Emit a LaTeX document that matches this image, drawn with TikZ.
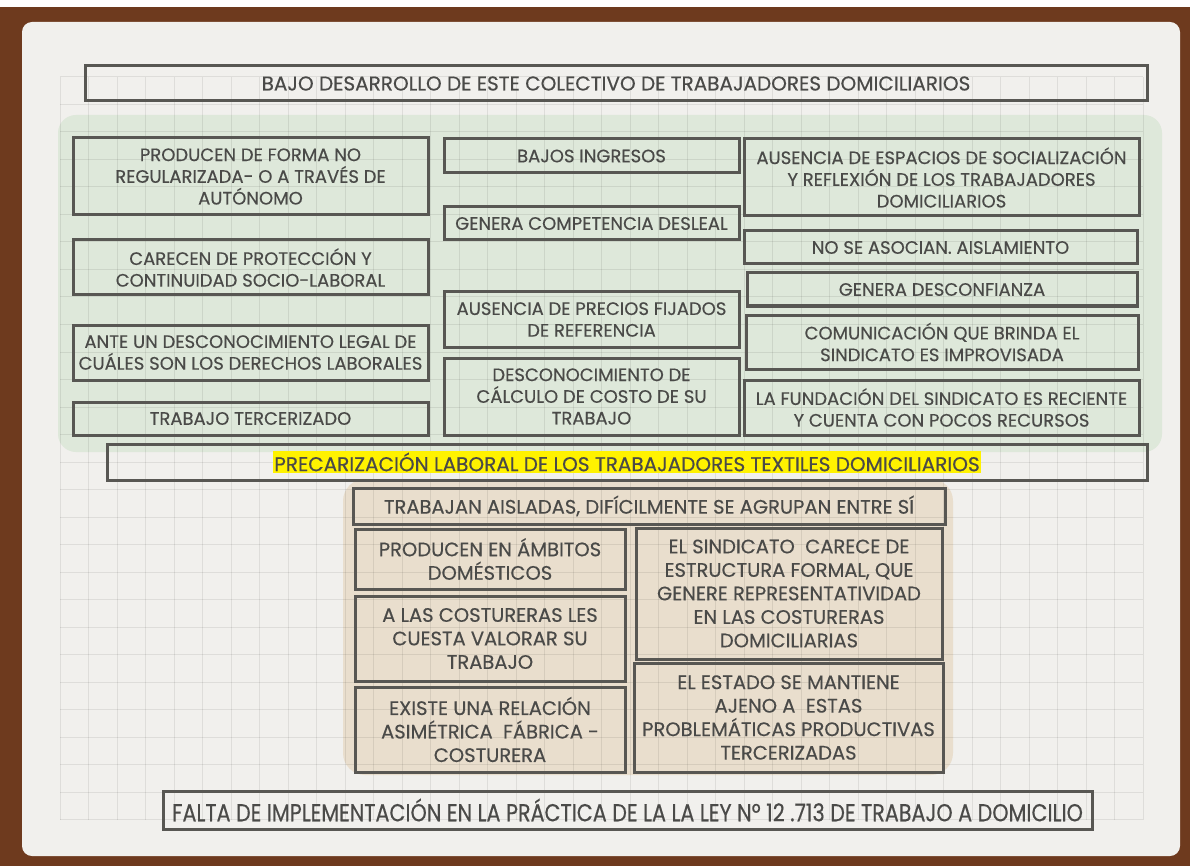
\documentclass[tikz,border=0pt]{standalone}
\usepackage{fontspec}
\setmainfont{Poppins}[FakeBold=0.4]
\newfontfamily\estrecha[FakeStretch=0.845,FakeBold=0.4]{Poppins}
\definecolor{marron}{RGB}{110,58,30}
\definecolor{papel}{RGB}{241,240,237}
\definecolor{verde}{RGB}{222,232,218}
\definecolor{beige}{RGB}{233,222,205}
\definecolor{borde}{RGB}{88,87,83}
\definecolor{texto}{RGB}{74,74,72}
\begin{document}
\begin{tikzpicture}[x=1pt,y=-1pt,
	caja/.style={draw=borde,line width=3pt,text=texto,align=center,inner sep=0pt,font=\fontsize{18}{21.7}\selectfont},
	cajab/.style={caja,font=\fontsize{19.5}{23.5}\selectfont},
	cuadro/.style={black,opacity=0.08,line width=1pt}]

	\useasboundingbox (0,0) rectangle (1190,866);
	\fill[marron] (0,7) rectangle (1190,866); %frame
	\fill[papel,rounded corners=10] (22,22) rectangle (1180,856); %paper

	%coloured areas
	\fill[verde,rounded corners=18] (58,115) rectangle (1162,452); %green area
	\fill[beige,rounded corners=22] (343,479) rectangle (953,775); %tan area

	%grid
	\foreach \i in {0,...,38} \draw[cuadro] ({60+28.5*\i},77) -- ({60+28.5*\i},819.5);
	\foreach \j in {0,...,27} \draw[cuadro] (60,{77+27.5*\j}) -- (1143,{77+27.5*\j});

	%top
	\node[caja,minimum width=1062,minimum height=35,font=\fontsize{20}{22}\selectfont] (bajo) at (616,83.5) {BAJO DESARROLLO DE ESTE COLECTIVO DE TRABAJADORES DOMICILIARIOS};

	%left column
	\node[caja,minimum width=355,minimum height=77] (noregular) at (250.5,176.5) {PRODUCEN DE FORMA NO\\REGULARIZADA- O A TRAVÉS DE\\AUTÓNOMO};
	\node[caja,minimum width=355,minimum height=55] (proteccion) at (250.5,267.5) {CARECEN DE PROTECCIÓN Y\\CONTINUIDAD SOCIO-LABORAL};
	\node[caja,minimum width=355,minimum height=55] (legal) at (250.5,352.5) {ANTE UN DESCONOCIMIENTO LEGAL DE\\CUÁLES SON LOS DERECHOS LABORALES};
	\node[caja,minimum width=355,minimum height=33] (tercerizado) at (250.5,418.5) {TRABAJO TERCERIZADO};

	%middle column
	\node[caja,minimum width=295,minimum height=34] (ingresos) at (591.5,156) {BAJOS INGRESOS};
	\node[caja,minimum width=295,minimum height=33] (desleal) at (591.5,223.5) {GENERA COMPETENCIA DESLEAL};
	\node[caja,minimum width=295,minimum height=55] (precios) at (591.5,319.5) {AUSENCIA DE PRECIOS FIJADOS\\DE REFERENCIA};
	\node[caja,minimum width=295,minimum height=77] (costo) at (591.5,396.5) {DESCONOCIMIENTO DE\\CÁLCULO DE COSTO DE SU\\TRABAJO};

	%right column
	\node[caja,minimum width=395,minimum height=77] (espacios) at (941.5,177.5) {AUSENCIA DE ESPACIOS DE SOCIALIZACIÓN\\Y REFLEXIÓN DE LOS TRABAJADORES\\DOMICILIARIOS};
	\node[caja,minimum width=393,minimum height=33] (aislamiento) at (940.5,247.5) {NO SE ASOCIAN. AISLAMIENTO};
	\node[caja,minimum width=390,minimum height=33] (desconfianza) at (942,289.5) {GENERA DESCONFIANZA};
	\node[caja,minimum width=392,minimum height=54] (comunicacion) at (942,342) {COMUNICACIÓN QUE BRINDA EL\\SINDICATO ES IMPROVISADA};
	\node[caja,minimum width=395,minimum height=55] (fundacion) at (941.5,407.5) {LA FUNDACIÓN DEL SINDICATO ES RECIENTE\\Y CUENTA CON POCOS RECURSOS};

	%central problem
	\node[caja,minimum width=1040,minimum height=36,font=\fontsize{20}{22}\selectfont] (precarizacion) at (627,462) {\setlength{\fboxsep}{1.5pt}\colorbox{yellow}{PRECARIZACIÓN LABORAL DE LOS TRABAJADORES TEXTILES DOMICILIARIOS}};

	%tan area
	\node[cajab,minimum width=592,minimum height=36] (aisladas) at (649,506) {TRABAJAN AISLADAS, DIFÍCILMENTE SE AGRUPAN ENTRE SÍ};
	\node[cajab,minimum width=270,minimum height=60] (domesticos) at (490,559) {PRODUCEN EN ÁMBITOS\\DOMÉSTICOS};
	\node[cajab,minimum width=270,minimum height=85] (valorar) at (490,638.5) {A LAS COSTURERAS LES\\CUESTA VALORAR SU\\TRABAJO};
	\node[cajab,minimum width=270,minimum height=85] (asimetrica) at (490,729.5) {EXISTE UNA RELACIÓN\\ASIMÉTRICA~ FÁBRICA -\\COSTURERA};
	\node[cajab,minimum width=306,minimum height=131] (sindicato) at (789,593.5) {EL SINDICATO~ CARECE DE\\ESTRUCTURA FORMAL, QUE\\GENERE REPRESENTATIVIDAD\\EN LAS COSTURERAS\\DOMICILIARIAS};
	\node[cajab,minimum width=309,minimum height=109] (estado) at (788.5,717.5) {EL ESTADO SE MANTIENE\\AJENO A~ ESTAS\\PROBLEMÁTICAS PRODUCTIVAS\\TERCERIZADAS};

	%bottom
	\node[caja,minimum width=929,minimum height=38,font=\estrecha\fontsize{24.5}{28}\selectfont] (ley) at (627.5,810) {FALTA DE IMPLEMENTACIÓN EN LA PRÁCTICA DE LA LA LEY Nº 12 .713 DE TRABAJO A DOMICILIO};
\end{tikzpicture}
\end{document}
